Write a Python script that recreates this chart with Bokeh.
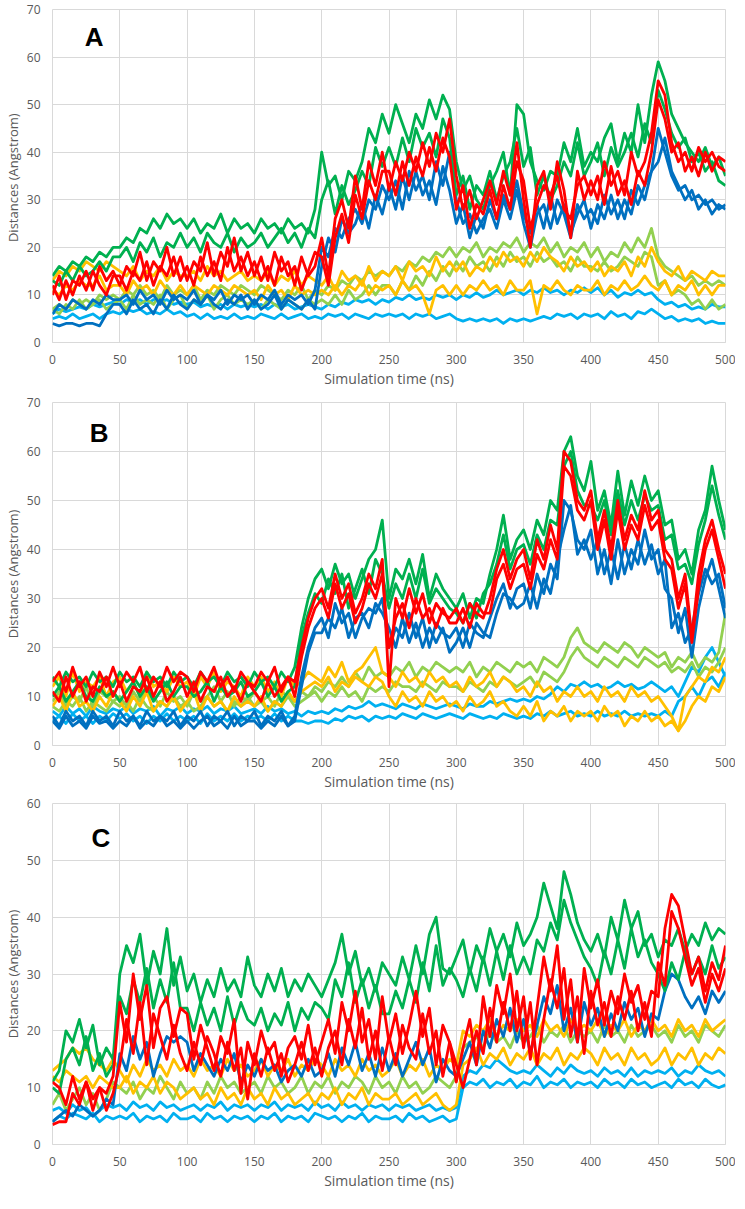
from bokeh.plotting import figure
from bokeh.layouts import column
from bokeh.models import Range1d, SingleIntervalTicker, Label
from bokeh.embed import file_html
from bokeh.resources import INLINE

T = list(range(0, 501, 5))  # simulation time (ns)

# ---------------- Panel A ----------------
A_green1 = [14,16,15,17,16,18,17,19,18,20, 20,22,21,24,23,26,24,27,25,26, 24,26,23,25,24,27,23,26,24,25,
            23,26,24,25,23,26,24,25,23,28, 40,33,35,30,36,34,38,45,42,48, 44,50,46,42,48,45,51,47,52,49,
            38,32,35,30,28,33,36,40,31,50, 48,38,34,32,36,35,42,38,45,37, 40,38,43,46,38,44,40,50,42,52,
            59,55,48,45,42,40,38,41,37,39, 35]
A_green2 = [13,12,15,13,16,14,15,17,15,18, 18,20,17,21,19,22,18,21,20,23, 20,22,19,23,21,20,23,19,22,20,
            21,23,20,22,24,21,23,20,24,22, 30,34,27,33,29,32,36,33,41,37, 41,37,43,38,45,41,44,39,47,43,
            31,35,28,33,31,36,30,35,38,45, 37,41,31,35,30,33,38,35,42,35, 38,42,35,41,37,40,44,39,46,42,
            53,49,44,41,43,38,40,36,38,34, 33]
A_red1 = [10,14,9,13,12,15,11,16,13,15, 12,16,14,19,13,17,15,20,14,18, 13,17,15,21,14,19,16,22,15,19,
          14,18,13,19,15,17,12,18,14,16, 22,14,26,30,24,35,28,38,33,40, 32,38,34,40,36,42,37,44,40,47,
          35,28,32,26,30,34,29,36,31,42, 30,20,33,36,28,38,32,22,36,30, 34,30,38,33,36,31,40,35,38,44,
          55,52,42,38,40,36,41,38,40,37, 36]
A_red2 = [12,9,13,10,14,11,15,12,10,14, 14,11,15,13,17,12,16,14,18,13, 16,12,18,14,17,13,20,15,18,14,
          17,13,16,12,18,14,16,11,15,19, 18,12,22,27,21,31,26,34,30,36, 36,31,38,33,39,35,41,36,43,39,
          28,33,24,29,27,32,26,33,28,38, 34,24,29,33,31,35,28,26,33,35, 31,35,29,37,31,34,29,36,33,40,
          51,47,40,42,36,39,35,40,36,39, 38]
A_blue1 = [6,8,7,9,8,7,9,8,10,9, 9,10,8,11,9,10,8,11,9,10, 9,11,8,10,9,11,8,10,9,10,
           8,10,9,11,8,10,9,10,8,11, 20,18,24,22,26,28,25,30,28,33, 30,34,28,36,32,35,30,38,33,40,
           30,25,27,23,26,28,24,30,26,32, 25,20,27,29,24,30,27,22,29,26, 28,25,31,27,30,26,32,29,33,36,
           45,40,35,32,33,30,31,29,30,28, 29]
A_blue2 = [4,3.5,4,4,3.5,4,4,3.5,6,8, 8,6,9,7,8,6,9,7,10,8, 7,9,8,10,8,7,9,8,10,7,
           9,7,8,10,7,9,8,7,9,7, 16,22,19,26,23,25,29,24,31,27, 33,28,35,30,36,31,34,29,37,32,
           25,29,22,27,24,30,26,31,28,34, 27,23,29,24,31,25,29,23,27,30, 24,29,26,31,26,30,27,33,30,36,
           38,43,36,33,30,32,28,30,27,29, 28]
A_lgreen1 = [7,8,7,9,8,9,8,10,9,10, 9,11,10,12,10,11,9,12,10,11, 10,12,9,11,10,12,11,10,12,11,
             10,12,11,10,9,11,10,12,9,11, 10,12,11,13,12,14,13,15,14,15, 14,16,15,17,16,18,17,19,18,20,
             18,20,19,21,18,20,19,21,20,22, 19,21,20,22,19,21,18,20,19,21, 18,20,17,19,18,21,19,22,20,24,
             18,16,15,14,13,14,12,13,12,13, 12]
A_lgreen2 = [7,6,8,7,9,7,8,9,7,8, 9,7,10,8,9,8,10,7,9,10, 7,9,8,10,7,9,10,8,9,8,
             9,7,9,8,7,9,8,7,9,8, 9,8,10,8,11,9,10,12,10,12, 12,10,13,11,14,12,15,13,16,14,
             17,15,18,16,17,15,18,16,19,17, 18,16,19,17,18,16,17,15,18,16, 16,15,17,15,16,18,17,16,19,18,
             12,13,10,11,10,8,9,7,9,7, 8]
A_yellow1 = [13,15,14,16,15,17,16,15,17,16, 15,14,16,13,15,14,16,13,15,14, 14,15,13,16,14,15,13,14,15,13,
             14,13,15,12,14,13,15,12,14,13, 12,14,11,15,13,14,12,16,13,15, 14,16,13,17,15,16,14,18,15,17,
             15,17,14,16,15,18,16,19,17,18, 16,19,17,20,18,17,15,18,16,17, 15,17,14,16,15,17,14,18,16,20,
             17,15,14,16,13,15,14,13,15,14, 14]
A_yellow2 = [11,10,12,11,13,12,12,14,11,12, 12,10,13,11,12,10,13,11,10,12, 10,12,11,10,12,11,10,12,11,10,
             11,9,12,10,11,9,12,10,11,10, 11,10,12,10,12,11,13,10,12,11, 12,10,13,11,12,10,6,11,12,10,
             12,10,12,11,13,11,12,10,13,11, 11,13,6,12,11,13,11,10,12,11, 11,13,10,12,11,13,11,12,14,12,
             11,13,10,12,11,13,10,12,10,12, 12]
A_lblue1 = [5,5.5,5,6,5,5.5,6,5,6,6.5, 6,7,6.5,7,6,6.5,6,7,6,6.5, 5.5,6,5,6,5,5.5,5,6,5,5.5,
            5,6,5.5,5,6,5,5.5,6,5,5.5, 5,6,5.5,6,5,6,5.5,5,6,5.5, 6,5.5,6,5,6,5.5,6,5,5.5,6,
            5,4.5,5,4.5,5,4.5,5,4,5,4.5, 5,4.5,5,5.5,5,6,5.5,6,5,6, 5.5,6,5,6.5,5.5,6,5,6.5,6,7,
            6,5,5.5,4.5,5,4.5,5,4,4.5,4, 4]
A_lblue2 = [6,7,6.5,7,7.5,7,8,7.5,8,8.5, 8,9,8.5,9,8,9,8.5,9,8,8.5, 8,8.5,7.5,8,7.5,8,7,8,7.5,8,
            7.5,8,7,8,7.5,8,7,7.5,8,7.5, 7,8,7.5,8.5,8,9,8.5,9,8,9, 8.5,9.5,9,10,9,9.5,9,10,9.5,10,
            9,10,9.5,10.5,9.5,10,11,10,10.5,11, 10,11,10.5,11.5,10.5,11,10,11,10.5,11.5, 10.5,11.5,10,11,9.5,10.5,10,11,10,10.5,
            9,8,8.5,7.5,8,7,7.5,7,8,7.5, 7.5]

# ---------------- Panel B ----------------
B_green1 = [14,12,15,13,14,12,15,13,14,12, 15,13,14,12,15,13,14,12,15,13, 14,12,15,13,14,12,15,13,14,12,
            15,13,14,12,15,13,16,24,30,34, 36,32,37,33,35,30,34,38,40,46, 30,36,34,38,33,39,30,35,32,30,
            28,31,26,30,29,35,40,47,38,42, 44,40,46,43,50,48,60,63,55,52, 58,48,52,45,56,47,54,49,55,50,
            52,45,46,38,40,35,44,48,57,50, 44]
B_green2 = [10,12,9,11,13,10,9,12,10,11, 9,11,13,10,12,9,11,13,10,12, 12,10,11,13,9,12,10,11,13,10,
            11,13,10,12,9,11,12,22,27,31, 29,34,31,35,28,32,36,31,38,35, 28,33,30,35,30,36,29,32,30,28,
            27,25,29,26,31,33,37,43,36,40, 41,37,43,40,46,45,57,60,52,49, 49,46,50,43,52,45,50,46,51,48,
            49,42,43,36,37,33,41,46,53,47, 42]
B_red1 = [13,15,11,16,12,14,10,15,12,16, 12,15,13,16,11,14,12,16,13,15, 14,11,15,13,16,12,14,11,15,13,
          12,15,13,16,11,14,13,20,26,30, 32,28,35,30,33,27,30,35,32,38, 12,30,26,32,27,31,25,29,27,26,
          28,25,29,27,26,30,36,40,34,38, 40,34,42,38,45,40,60,58,50,48, 52,42,48,40,50,42,47,44,52,46,
          48,40,38,30,35,22,35,42,46,40, 35]
B_red2 = [11,9,14,10,13,9,12,11,14,10, 13,9,12,11,14,10,13,9,11,14, 10,13,9,12,11,14,10,12,9,13,
          11,9,13,10,12,14,10,18,24,28, 30,26,33,28,31,25,28,33,30,35, 20,26,29,24,30,26,28,24,28,25,
          25,28,24,29,27,27,34,37,32,36, 37,32,39,36,42,38,57,55,48,46, 50,40,46,38,48,40,45,42,49,44,
          46,38,36,28,33,21,32,40,44,38, 32]
B_blue1 = [6,4,7,5,6,4,7,5,6,4, 7,5,6,4,7,5,6,5,7,4, 6,5,7,4,6,5,7,4,6,5,
           7,4,6,5,7,4,6,14,20,24, 26,22,29,25,27,22,26,28,27,30, 20,24,22,27,22,26,20,25,23,22,
           24,20,25,23,22,26,30,33,28,32, 33,28,35,31,37,34,50,48,42,40, 44,35,40,33,42,35,40,37,44,38,
           40,32,30,23,28,18,28,34,38,32, 26]
B_blue2 = [5,3.5,6,4,5,3.5,6,4.5,5,3.5, 5,4,6,3.5,5,4,6,4,5,3.5, 5,3.5,5,6,4,5,3.5,6,4,5,
           5,3.5,5,4,6,4,5,12,19,23, 23,26,24,28,22,26,27,24,29,27, 24,20,26,21,25,20,24,21,24,19,
           21,24,20,25,23,22,27,31,30,28, 29,33,28,34,31,38,44,49,39,42, 38,42,35,40,34,41,36,42,37,41,
           35,38,24,27,21,24,31,36,33,35, 28]
B_lgreen1 = [9,11,8,10,9,12,8,11,10,9, 10,8,11,9,12,10,8,11,9,10, 8,11,9,10,12,9,11,8,10,9,
             11,9,10,8,11,10,9,11,10,12, 11,13,12,14,12,15,13,16,14,15, 14,16,15,17,14,16,15,17,16,15,
             16,15,17,14,16,15,17,16,15,17, 16,17,15,18,17,16,18,22,24,21, 20,19,21,20,19,21,20,18,20,19,
             18,19,16,18,17,19,16,18,17,19, 27]
B_lgreen2 = [8,7,9,8,10,7,9,8,7,9, 8,9,7,10,8,7,9,8,10,8, 9,7,8,10,8,9,7,9,8,10,
             8,9,7,9,8,10,8,9,10,11, 9,11,10,12,10,11,9,12,11,12, 11,13,12,12,11,13,12,11,13,12,
             12,11,13,12,11,13,12,14,13,12, 13,14,12,15,14,13,15,18,20,18, 17,16,18,17,16,18,17,16,18,17,
             16,17,15,16,15,17,14,16,15,17, 20]
B_yellow1 = [12,14,10,15,11,13,12,14,10,13, 14,11,13,10,15,12,13,11,14,12, 13,10,14,12,15,11,13,12,10,14,
             12,14,11,13,10,14,12,13,15,14, 13,16,14,17,13,15,16,18,20,15, 14,12,15,13,14,12,15,13,14,12,
             13,11,14,12,13,15,12,14,13,11, 12,10,13,11,12,9,11,10,12,10, 11,9,12,10,11,9,12,10,11,9,
             10,8,6,3,10,12,14,13,16,15, 18]
B_yellow2 = [8,10,7,11,8,9,7,10,8,11, 9,7,10,8,11,7,9,8,10,7, 9,11,7,10,8,9,7,10,8,9,
             8,10,7,9,8,11,9,11,12,13, 12,14,11,13,12,14,13,12,14,13, 10,8,11,9,10,8,11,9,10,8,
             9,7,10,8,9,11,8,9,7,6, 8,6,9,5,7,6,8,5,7,6, 7,5,8,6,7,4,6,5,7,5,
             6,4,5,3,5,8,10,9,12,11, 14]
B_lblue1 = [5,6,4.5,6.5,5,6,4.5,6,5,6.5, 5.5,6.5,5,6,4.5,6,5,6.5,5,6, 5,6,4.5,6.5,5,6,5,6.5,5,6,
            5.5,6,5,6.5,5,6,5,5,4.5,5, 5,4.5,5.5,5,6,5.5,6,5,6,5.5, 6,5.5,6.5,6,5.5,6.5,6,5.5,6,6.5,
            6,5.5,6.5,6,5.5,6,5.5,6.5,6,5.5, 6,5.5,6.5,6,7,6,6.5,7,6,6.5, 6,7,6,6.5,6,7,6,6.5,6,6.5,
            6,7,6,9,10,12,10,13,14,12, 15]
B_lblue2 = [7,6,8,6.5,7.5,6,8,7,6.5,7.5, 7,8,6.5,7.5,7,8,6,7.5,7,8, 6.5,7.5,7,8,6.5,7.5,7,8,6.5,7,
            7.5,6.5,8,7,7.5,6.5,7,6,7,6.5, 7,6.5,7.5,7,8,7.5,8,9,8,8.5, 8,7.5,8.5,8,7.5,8.5,8,7.5,8,8.5,
            8,7.5,8.5,8,8,9,8.5,9,9.5,9, 9.5,9,10,9.5,10.5,12,11,12.5,12,13, 12,12.5,11.5,12,13,12,12.5,11.5,12,13,
            12,11,12,10,13,16,15,18,20,17, 14]

# ---------------- Panel C ----------------
C_green1 = [11,13,20,18,22,17,21,14,17,15, 30,35,32,37,28,34,30,38,28,33, 27,30,25,29,26,31,27,29,26,33,
            28,26,30,27,31,26,29,27,30,28, 26,29,32,37,30,34,28,31,27,32, 30,28,33,29,35,30,37,40,31,30,
            33,36,30,35,32,38,34,37,33,39, 35,37,40,46,42,38,48,44,39,36, 34,37,33,40,36,43,38,41,35,37,
            33,36,35,38,34,37,35,39,36,38, 37]
C_green2 = [10,9,15,17,14,19,13,16,12,14, 26,23,29,25,31,24,29,25,32,24, 24,20,25,21,24,20,26,21,25,22,
            21,24,20,23,21,25,20,24,22,25, 24,22,29,26,32,25,29,24,28,23, 23,27,24,29,25,32,27,35,28,31,
            29,26,31,27,33,28,34,29,35,30, 33,30,36,34,39,36,43,39,36,33, 31,28,34,30,36,31,38,33,36,32,
            30,27,32,29,34,30,33,30,35,31, 33]
C_red1 = [11,10,7,12,8,11,6,10,9,12, 25,18,30,22,28,17,24,26,19,24, 23,15,21,17,13,19,16,22,9,18,
          14,20,16,18,12,17,19,15,21,14, 18,22,16,25,20,27,18,22,15,26, 18,23,16,21,27,19,24,14,21,18,
          11,17,22,14,26,19,28,23,30,20, 26,15,24,33,27,35,22,29,18,31, 24,29,21,27,23,30,25,28,22,27,
          26,38,44,42,36,30,33,27,32,29, 35]
C_red2 = [3.5,4,4,9,7,11,8,10,6,9, 14,22,16,25,14,23,19,15,21,16, 13,18,14,19,16,12,18,13,17,8,
          16,12,17,13,16,11,14,18,13,17, 12,17,20,14,22,17,24,15,20,13, 19,14,21,17,15,23,16,20,12,18,
          14,10,15,20,16,24,18,25,20,27, 17,25,14,22,29,24,31,19,26,16, 27,21,25,19,26,22,27,20,25,19,
          32,28,41,38,33,28,31,25,30,27, 31]
C_blue1 = [4,5,6,5,7,6,5,6,8,7, 16,13,19,15,18,12,16,19,18,19, 18,13,16,14,12,15,13,16,11,14,
           12,15,13,14,11,13,14,12,15,12, 13,16,12,17,14,18,13,16,12,17, 13,16,12,15,18,14,17,11,15,13,
           12,15,18,14,20,17,22,19,24,18, 22,16,21,26,23,28,20,24,18,25, 21,24,19,23,20,25,22,24,19,23,
           22,27,30,29,26,24,26,23,27,25, 27]
C_lgreen1 = [7,9,6,8,10,7,9,6,8,11, 10,9,11,8,10,9,12,10,8,11, 9,10,8,11,9,12,10,11,9,10,
             11,9,12,10,11,9,10,12,9,11, 10,12,9,11,10,12,11,9,12,10, 11,9,12,10,11,9,10,12,11,10,
             12,17,18,19,17,20,18,19,17,20, 18,19,21,18,20,19,21,18,20,19, 20,18,21,19,20,18,21,19,20,21,
             19,20,18,21,19,20,18,21,20,19, 21]
C_yellow1 = [13,14,15,17,16,17,15,14,13,15, 13,11,14,12,15,13,14,12,15,13, 14,12,15,13,14,12,15,13,14,12,
             13,15,12,14,13,15,12,14,13,15, 14,12,15,13,14,12,15,13,14,12, 13,15,12,14,13,15,12,14,13,15,
             14,20,19,21,20,22,19,21,20,22, 20,21,19,22,20,21,19,22,20,21, 20,22,19,21,20,22,19,21,20,22,
             20,21,19,22,20,21,19,22,20,21, 22]
C_yellow2 = [12,11,13,12,11,12,10,12,11,10, 10,12,9,11,10,12,9,11,10,8, 9,10,8,9,7,10,8,9,7,10,
             8,9,7,10,8,9,7,8,9,7, 9,8,10,7,9,8,10,7,9,8, 8,9,7,8,9,7,8,9,7,6,
             7,14,15,17,14,16,15,17,14,16, 15,17,14,16,15,17,14,16,15,17, 16,14,17,15,16,14,17,15,16,14,
             15,17,14,16,15,17,14,16,15,17, 16]
C_lblue1 = [4,5,4.5,5.5,5,4.5,5.5,4,5,4.5, 5,4.5,5.5,4,5,4.5,5,4,5.5,4.5, 4.5,5,4,5.5,4.5,5,4,5,4.5,5,
            4,5,4.5,5.5,4,5,4.5,5,4,5.5, 5,4.5,5,4,5,4.5,5.5,4,5,4.5, 4.5,5,4,5.5,4.5,5,4,4.5,5,4,
            4.5,10,11,10.5,11.5,10,11,10.5,11.5,10, 11,10.5,12,10,11,10.5,11.5,10,11,10.5, 11,10,11.5,10.5,11,10,11.5,10.5,11,10,
            10.5,11,10,11.5,10.5,11,10,11.5,10.5,10, 10.5]
C_lblue2 = [6,6.5,5.5,7,6,6.5,5,6,7,6.5, 7,6,7.5,6.5,7,6,7.5,6.5,7,6, 6.5,7,6,7,6.5,7.5,6,7,6.5,7,
            6,7,6.5,7.5,6,7,6.5,7,6,7.5, 6.5,7,6,7.5,6.5,7,6,7,6.5,7, 6,7,6.5,7,6,6.5,7,6,6.5,6,
            6.5,12,13,12.5,14,13.5,15,14,13,12.5, 13,12.5,14,13,12,13.5,12.5,14,13,12.5, 13,12,13.5,12.5,13,12,13.5,12,13,12.5,
            13,12.5,13.5,12,13,12.5,14,13,12.5,13, 12]

C_LBLUE, C_LGREEN, C_YELLOW = "#00b0f0", "#92d050", "#ffc000"
C_BLUE, C_GREEN, C_RED = "#0070c0", "#00b050", "#ff0000"

PANEL_A = [(A_lblue1, C_LBLUE), (A_lblue2, C_LBLUE), (A_lgreen1, C_LGREEN), (A_lgreen2, C_LGREEN),
           (A_yellow1, C_YELLOW), (A_yellow2, C_YELLOW), (A_blue1, C_BLUE), (A_blue2, C_BLUE),
           (A_green1, C_GREEN), (A_green2, C_GREEN), (A_red1, C_RED), (A_red2, C_RED)]
PANEL_B = [(B_lblue1, C_LBLUE), (B_lblue2, C_LBLUE), (B_lgreen1, C_LGREEN), (B_lgreen2, C_LGREEN),
           (B_yellow1, C_YELLOW), (B_yellow2, C_YELLOW), (B_blue1, C_BLUE), (B_blue2, C_BLUE),
           (B_green1, C_GREEN), (B_green2, C_GREEN), (B_red1, C_RED), (B_red2, C_RED)]
PANEL_C = [(C_lblue1, C_LBLUE), (C_lblue2, C_LBLUE), (C_lgreen1, C_LGREEN),
           (C_yellow1, C_YELLOW), (C_yellow2, C_YELLOW), (C_blue1, C_BLUE),
           (C_green1, C_GREEN), (C_green2, C_GREEN), (C_red1, C_RED), (C_red2, C_RED)]

for group in (PANEL_A, PANEL_B, PANEL_C):
    for ys, _ in group:
        assert len(ys) == len(T), len(ys)

FONT = "Open Sans"
GRID = "#d9d9d9"
TXT = "#595959"


def make_panel(series, ymax, letter, lx, ly, ylabel, height, left, top, bottom):
    p = figure(width=735, height=height, x_range=Range1d(0, 500), y_range=Range1d(0, ymax),
               output_backend="svg", toolbar_location=None,
               min_border_left=left, min_border_right=10, min_border_top=top, min_border_bottom=bottom)
    p.outline_line_color = GRID
    p.outline_line_width = 1
    for ys, col in series:
        p.line(T, ys, line_color=col, line_width=2.8, line_join="round")
    p.xaxis.ticker = SingleIntervalTicker(interval=50)
    p.yaxis.ticker = SingleIntervalTicker(interval=10)
    p.xgrid.ticker = SingleIntervalTicker(interval=50)
    p.ygrid.ticker = SingleIntervalTicker(interval=10)
    p.grid.grid_line_color = GRID
    p.grid.grid_line_width = 1
    for ax in (p.xaxis[0], p.yaxis[0]):
        ax.major_tick_line_color = None
        ax.minor_tick_line_color = None
        ax.major_tick_out = 0
        ax.major_tick_in = 0
        ax.major_label_text_font = FONT
        ax.major_label_text_font_size = "12px"
        ax.major_label_text_color = TXT
        ax.axis_label_text_font = FONT
        ax.axis_label_text_font_style = "normal"
        ax.axis_label_text_color = TXT
    p.xaxis.axis_label_text_font_size = "14px"
    p.yaxis.axis_label_text_font_size = "13px"
    p.xaxis.axis_line_color = GRID
    p.yaxis.axis_line_color = None
    p.xaxis.axis_label = "Simulation time (ns)"
    p.yaxis.axis_label = ylabel
    p.xaxis.major_label_standoff = 8
    p.xaxis.axis_label_standoff = 2
    p.yaxis.major_label_standoff = 8
    p.yaxis.axis_label_standoff = 2
    p.add_layout(Label(x=lx, y=ly, text=letter, text_font="Liberation Sans", text_font_size="26px",
                       text_font_style="bold", text_color="black", text_baseline="middle",
                       text_align="left"))
    return p


pA = make_panel(PANEL_A, 70, "A", 24, 64.3, "Distances  (Angstrom)", 390, 42, 9, 48)
pB = make_panel(PANEL_B, 70, "B", 27.7, 63.8, "Distances (Angstrom)", 403, 39, 12, 44)
pC = make_panel(PANEL_C, 60, "C", 29, 54, "Distances (Angstrom)", 399, 35, 10, 44)

layout = column(pA, pB, pC, spacing=0)
open("out.html", "w").write(file_html(layout, INLINE))
